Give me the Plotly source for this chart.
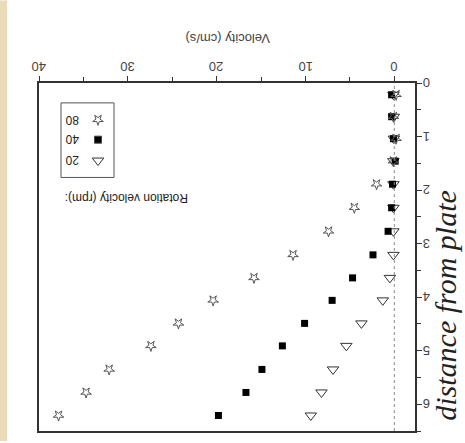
import plotly.graph_objects as go

# distance from plate (sample positions) and measured velocities (cm/s)
distance = [0.22, 0.63, 1.04, 1.46, 1.89, 2.33, 2.77, 3.21, 3.64, 4.06,
            4.49, 4.91, 5.35, 5.78, 6.21]
vel_20 = [0.1, 0.05, 0.05, 0.1, 0.1, 0.1, 0.1, 0.1, 0.5, 1.3,
          3.7, 5.4, 6.9, 8.2, 9.4]
vel_40 = [0.3, 0.3, 0.1, -0.1, 0.2, 0.3, 0.7, 2.4, 4.7, 7.0,
          10.1, 12.6, 14.9, 16.7, 19.8]
vel_80 = [-0.2, 0.1, -0.2, 0.1, 2.0, 4.5, 7.4, 11.4, 15.8, 20.4,
          24.3, 27.4, 32.1, 34.7, 37.8]

x_ticks = [0, 10, 20, 30, 40]
y_ticks = [0, 1, 2, 3, 4, 5, 6]
rpm_labels = ["80", "40", "20"]

W, H = 465, 443
L, R, T, B = 39, 50, 83, 10
PW, PH = W - L - R, H - T - B


def px(x):
    return (x - L) / PW


def py(y):
    return 1 - (y - T) / PH


AX = "#333333"
TXT = "#444444"
SANS = "Liberation Sans, Arial, sans-serif"
SERIF = "Liberation Serif, Times New Roman, serif"


def upside_down(text, size, color=TXT, family=SANS, **pos):
    # lettering turned half a circle, centred on its position
    return dict(text=text, textangle=180, showarrow=False,
                xanchor="center", yanchor="middle",
                font=dict(family=family, size=size, color=color), **pos)


fig = go.Figure()

fig.add_trace(go.Scatter(
    x=vel_20, y=distance, mode="markers", name="20",
    marker=dict(symbol="triangle-down-open", size=10, color="#333333",
                line=dict(width=1))))
fig.add_trace(go.Scatter(
    x=vel_40, y=distance, mode="markers", name="40",
    marker=dict(symbol="square", size=7, color="#000000")))
fig.add_trace(go.Scatter(
    x=vel_80, y=distance, mode="markers", name="80",
    marker=dict(symbol="star-open", size=8, color="#555555", angle=180,
                line=dict(width=1))))

# legend keys drawn on an overlay axis spanning the plot area
key_rows = [120, 140, 161]
key_styles = [("star-open", 8, 180, "#555555"),
              ("square", 7, 0, "#000000"),
              ("triangle-down-open", 10, 0, "#333333")]
for r, (sym, sz, ang, col) in zip(key_rows, key_styles):
    fig.add_trace(go.Scatter(
        x=[px(98)], y=[py(r)], mode="markers",
        xaxis="x2", yaxis="y2", showlegend=False, hoverinfo="skip",
        marker=dict(symbol=sym, size=sz, angle=ang, color=col,
                    line=dict(width=1))))

shapes = [
    # zero-velocity reference
    dict(type="line", xref="x", yref="paper", x0=0, x1=0, y0=0, y1=1,
         line=dict(color="#8a8a8a", width=1, dash="dot")),
    # legend box
    dict(type="rect", xref="paper", yref="paper",
         x0=px(61), x1=px(114), y0=py(178), y1=py(103),
         line=dict(color="#555555", width=1)),
    # paper edge strip
    dict(type="rect", xref="paper", yref="paper",
         x0=px(0), x1=px(7), y0=py(443), y1=py(0),
         line=dict(width=0), fillcolor="#eadcb8"),
]

annotations = [
    upside_down("Velocity (cm/s)", 13, xref="paper", yref="paper",
                x=px(228), y=py(38)),
    upside_down("Rotation velocity (rpm):", 12, color="#222222",
                xref="paper", yref="paper", x=px(127), y=py(198)),
    dict(text="distance from plate", xref="paper", yref="paper",
         x=px(446), y=py(307), textangle=-90, showarrow=False,
         xanchor="center", yanchor="middle",
         font=dict(family=SERIF, size=30, color="#222222", style="italic")),
]
for lab, r in zip(rpm_labels, key_rows):
    annotations.append(upside_down(lab, 12, color="#222222",
                                   xref="paper", yref="paper",
                                   x=px(72), y=py(r)))
# tick labels, upside down like the rest of the lettering
for v in x_ticks:
    annotations.append(upside_down(str(v), 13, xref="x", yref="paper",
                                   x=v, y=py(67)))
for v in y_ticks:
    annotations.append(upside_down(str(v), 13, xref="paper", yref="y",
                                   x=px(427), y=v))

fig.update_layout(
    width=W, height=H,
    margin=dict(l=L, r=R, t=T, b=B),
    paper_bgcolor="white", plot_bgcolor="white",
    showlegend=False,
    shapes=shapes, annotations=annotations,
    xaxis=dict(range=[40, -2.33], side="top", showgrid=False,
               zeroline=False, showline=True, linecolor=AX, linewidth=1.5,
               mirror=True, ticks="outside", ticklen=5, tickwidth=1.2,
               tickcolor=AX, tickvals=x_ticks, showticklabels=False,
               minor=dict(dtick=5, ticks="outside", ticklen=4,
                          tickcolor=AX, tickwidth=1.2)),
    yaxis=dict(range=[6.5, 0], side="right", showgrid=False,
               zeroline=False, showline=True, linecolor=AX, linewidth=1.5,
               mirror=True, ticks="outside", ticklen=5, tickwidth=1.2,
               tickcolor=AX, tickvals=y_ticks, showticklabels=False,
               minor=dict(dtick=0.5, ticks="outside", ticklen=4,
                          tickcolor=AX, tickwidth=1.2)),
    xaxis2=dict(range=[0, 1], overlaying="x", visible=False),
    yaxis2=dict(range=[0, 1], overlaying="y", visible=False),
)

fig.write_html("out.html")
